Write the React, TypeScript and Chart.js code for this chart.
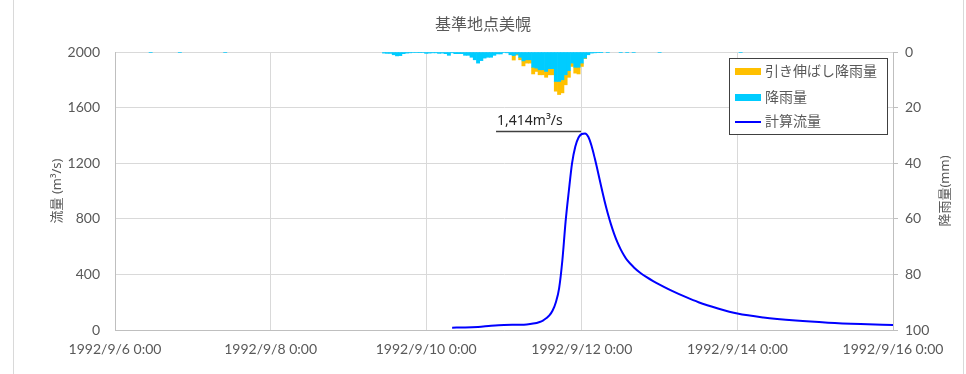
import React, { useEffect, useRef } from "react";
import { Chart, registerables } from "chart.js";

Chart.register(...registerables);

// ---------- data ----------
const TITLE = "基準地点美幌";
const LEFT_TITLE = "流量 (m³/s)";
const RIGHT_TITLE = "降雨量(mm)";
const LEGEND_LABELS = ["引き伸ばし降雨量", "降雨量", "計算流量"];
const PEAK_LABEL = "1,414m³/s";

const START_DAY = 6; // hour 0 = 1992/9/6 0:00
const HOURS_TOTAL = 240;
const X_TICK_STEP = 48;
const FLOW_MAX = 2000;
const FLOW_STEP = 400;
const RAIN_MAX = 100;
const RAIN_STEP = 20;

// hourly rainfall (mm) from RAIN_START_HOUR
const RAIN_START_HOUR = 83;
const rainfall = [
  0.4, 0.5, 0.5, 1.0, 1.4, 1.3, 0.6, 0.4, 0.3, 0.2, // 83-92
  0.2, 0.1, 0.2, 0.5, 0.4, 0.3, 0.3, 0.5, 0.4, 0.6, // 93-102
  1.2, 0.3, 0.6, 0.6, 0.6, 1.2, 1.2, 1.9, 2.8, 4.0, // 103-112
  3.1, 2.2, 1.9, 1.9, 1.2, 0.7, 0.7, 0.2, 0.3, 1.0, // 113-122
  1.3, 0.8, 1.9, 3.2, 2.8, 2.8, 5.5, 5.8, 6.4, 6.4, // 123-132
  7.0, 6.0, 6.0, 10.6, 10.6, 10.0, 8.2, 6.7, 4.0, 5.5, // 133-142
  5.5, 4.0, 2.2, 1.0, 0.4, 0.3, 0.1, 0.1, // 143-150
];
// additional rainfall of the stretched hyetograph (mm)
const stretchedExtra = [
  0, 0, 0, 0, 0, 0, 0, 0, 0, 0,
  0, 0, 0, 0, 0, 0, 0, 0, 0, 0,
  0, 0, 0, 0, 0, 0, 0, 0, 0, 0,
  0, 0, 0, 0, 0, 0, 0, 0, 0, 0,
  1.6, 0.3, 0.9, 1.8, 1.2, 1.2, 2.4, 1.2, 1.8, 1.8,
  2.1, 2.2, 2.2, 3.5, 4.7, 4.7, 3.6, 2.4, 1.2, 2.1,
  2.4, 1.2, 0.2, 0, 0, 0, 0, 0,
];
const minorRainHours = [11, 20, 34, 152, 156, 158, 160, 168, 193];
const minorRainValues = [0.2, 0.2, 0.2, 0.2, 0.2, 0.2, 0.2, 0.2, 0.2];

// computed discharge (m3/s)
const flowHours = [
  104, 108, 112, 116, 120, 124, 127, 129, 131, 132, 133, 134, 135, 136, 137, 138,
  139, 140, 141, 142, 143, 144, 145, 146, 147, 148, 149, 150, 151, 152, 153, 154,
  155, 156, 157, 158, 160, 162, 164, 166, 168, 172, 176, 180, 186, 192, 200, 210,
  220, 230, 240,
];
const flowValues = [
  17, 18, 22, 30, 36, 38, 40, 46, 58, 68, 84, 105, 140, 200, 300, 500,
  780, 1000, 1200, 1320, 1385, 1410, 1414, 1390, 1325, 1235, 1135, 1030, 930, 840, 760, 690,
  630, 580, 538, 502, 452, 412, 380, 352, 327, 280, 238, 200, 155, 118, 90, 68,
  53, 43, 36,
];

// ---------- styles ----------
const FONT = "Lato, 'Noto Sans CJK JP', sans-serif";
const SUP_FONT = "'Noto Sans', 'Noto Sans CJK JP', sans-serif";
const TEXT_COLOR = "#595959";
const GRID_COLOR = "#d9d9d9";
const AXIS_COLOR = "#bfbfbf";
const RAIN_COLOR = "#00CCFF";
const EXTRA_COLOR = "#FFC000";
const FLOW_COLOR = "#0000FF";

function hourLabel(h: number) {
  return `1992/9/${START_DAY + Math.round(h / 24)} 0:00`;
}

export default function App() {
  const canvasRef = useRef<HTMLCanvasElement | null>(null);

  useEffect(() => {
    const canvas = canvasRef.current;
    if (!canvas) return;

    const hours: number[] = [];
    for (let h = 0; h <= HOURS_TOTAL; h++) hours.push(h);
    const rainSeries: (number | null)[] = hours.map(() => null);
    const extraSeries: (number | null)[] = hours.map(() => null);
    rainfall.forEach((v, i) => {
      rainSeries[RAIN_START_HOUR + i] = v;
    });
    stretchedExtra.forEach((v, i) => {
      extraSeries[RAIN_START_HOUR + i] = v > 0 ? v : null;
    });
    minorRainHours.forEach((h, i) => {
      rainSeries[h] = minorRainValues[i];
    });
    const flowData = flowHours.map((h, i) => ({ x: h, y: flowValues[i] }));

    let peakIdx = 0;
    flowValues.forEach((v, i) => {
      if (v > flowValues[peakIdx]) peakIdx = i;
    });

    const framePlugin = {
      id: "frame",
      beforeDraw(chart: any) {
        const { ctx, width, height } = chart;
        ctx.save();
        ctx.fillStyle = "#ffffff";
        ctx.fillRect(0, 0, width, height);
        ctx.strokeStyle = GRID_COLOR;
        ctx.lineWidth = 1;
        ctx.beginPath();
        ctx.moveTo(13.5, 0);
        ctx.lineTo(13.5, height);
        ctx.moveTo(963.5, 0);
        ctx.lineTo(963.5, height);
        ctx.stroke();
        ctx.restore();
      },
    };

    const axisTitlePlugin = {
      id: "axisTitles",
      afterDraw(chart: any) {
        const { ctx, chartArea } = chart;
        const cy = (chartArea.top + chartArea.bottom) / 2;
        const draw = (text: string, x: number) => {
          ctx.save();
          ctx.fillStyle = TEXT_COLOR;
          ctx.font = `13px ${SUP_FONT}`;
          ctx.textAlign = "center";
          ctx.textBaseline = "middle";
          ctx.translate(x, cy);
          ctx.rotate(-Math.PI / 2);
          ctx.fillText(text, 0, 0);
          ctx.restore();
        };
        draw(LEFT_TITLE, 57);
        draw(RIGHT_TITLE, 945);
      },
    };

    const peakPlugin = {
      id: "peakLabel",
      afterDatasetsDraw(chart: any) {
        const { ctx, scales } = chart;
        const px = scales.x.getPixelForValue(flowHours[peakIdx]);
        const py = scales.y.getPixelForValue(flowValues[peakIdx]);
        ctx.save();
        ctx.strokeStyle = "#404040";
        ctx.lineWidth = 1.5;
        ctx.beginPath();
        ctx.moveTo(px - 89, py - 2);
        ctx.lineTo(px - 4, py - 2);
        ctx.stroke();
        ctx.fillStyle = "#262626";
        ctx.font = `14px ${SUP_FONT}`;
        ctx.textAlign = "left";
        ctx.textBaseline = "middle";
        ctx.fillText(PEAK_LABEL, px - 88, py - 12);
        ctx.restore();
      },
    };

    const legendPlugin = {
      id: "boxLegend",
      afterDraw(chart: any) {
        const { ctx, chartArea } = chart;
        const R = chartArea.right - 6;
        const T = chartArea.top + 6;
        const L = R - 158;
        const H = 76;
        ctx.save();
        ctx.fillStyle = "#ffffff";
        ctx.fillRect(L, T, R - L, H);
        ctx.strokeStyle = "#404040";
        ctx.lineWidth = 1;
        ctx.strokeRect(L + 0.5, T + 0.5, R - L, H);
        const sx = L + 6;
        const tx = L + 36;
        const rows = [T + 13, T + 39, T + 63];
        ctx.fillStyle = EXTRA_COLOR;
        ctx.fillRect(sx, rows[0] - 3, 26, 7);
        ctx.fillStyle = RAIN_COLOR;
        ctx.fillRect(sx, rows[1] - 3, 26, 7);
        ctx.strokeStyle = FLOW_COLOR;
        ctx.lineWidth = 2;
        ctx.beginPath();
        ctx.moveTo(sx, rows[2] + 1);
        ctx.lineTo(sx + 26, rows[2] + 1);
        ctx.stroke();
        ctx.fillStyle = TEXT_COLOR;
        ctx.font = `14px ${FONT}`;
        ctx.textAlign = "left";
        ctx.textBaseline = "middle";
        LEGEND_LABELS.forEach((t, i) => ctx.fillText(t, tx, rows[i]));
        ctx.restore();
      },
    };

    const chart = new Chart(canvas, {
      type: "bar",
      data: {
        labels: hours,
        datasets: [
          {
            type: "bar",
            label: LEGEND_LABELS[1],
            data: rainSeries,
            backgroundColor: RAIN_COLOR,
            borderWidth: 0,
            yAxisID: "y2",
            barPercentage: 1.0,
            categoryPercentage: 1.0,
            order: 1,
          },
          {
            type: "bar",
            label: LEGEND_LABELS[0],
            data: extraSeries,
            backgroundColor: EXTRA_COLOR,
            borderWidth: 0,
            yAxisID: "y2",
            barPercentage: 1.0,
            categoryPercentage: 1.0,
            order: 2,
          },
          {
            type: "line",
            label: LEGEND_LABELS[2],
            data: flowData as any,
            borderColor: FLOW_COLOR,
            borderWidth: 2,
            pointRadius: 0,
            fill: false,
            cubicInterpolationMode: "monotone",
            yAxisID: "y",
            order: 0,
          },
        ],
      },
      options: {
        responsive: false,
        animation: false,
        devicePixelRatio: 1,
        layout: { padding: 0 },
        plugins: {
          legend: { display: false },
          tooltip: { enabled: false },
          title: {
            display: true,
            text: TITLE,
            color: TEXT_COLOR,
            font: { family: FONT, size: 16, weight: "normal", lineHeight: "20px" },
            padding: { top: 15, bottom: 17 },
          },
        },
        scales: {
          x: {
            type: "linear",
            min: 0,
            max: HOURS_TOTAL,
            offset: false,
            stacked: true,
            grid: { color: GRID_COLOR, drawTicks: false, offset: false },
            border: { display: true, color: AXIS_COLOR },
            ticks: {
              stepSize: X_TICK_STEP,
              padding: 11,
              color: TEXT_COLOR,
              font: { family: FONT, size: 14 },
              maxRotation: 0,
              autoSkip: false,
              callback: (v: any) => hourLabel(Number(v)),
            },
            afterFit: (s: any) => {
              s.height = 44;
            },
          },
          y: {
            type: "linear",
            position: "left",
            min: 0,
            max: FLOW_MAX,
            grid: { color: GRID_COLOR, drawTicks: false },
            border: { display: true, color: AXIS_COLOR },
            ticks: {
              stepSize: FLOW_STEP,
              padding: 15,
              color: TEXT_COLOR,
              font: { family: FONT, size: 14 },
              callback: (v: any) => String(v),
            },
            afterFit: (s: any) => {
              s.width = 115;
            },
          },
          y2: {
            type: "linear",
            position: "right",
            min: 0,
            max: RAIN_MAX,
            reverse: true,
            stacked: true,
            grid: { drawOnChartArea: false, drawTicks: true, tickLength: 5, color: AXIS_COLOR },
            border: { display: true, color: AXIS_COLOR },
            ticks: {
              stepSize: RAIN_STEP,
              padding: 7,
              color: TEXT_COLOR,
              font: { family: FONT, size: 14 },
              callback: (v: any) => String(v),
            },
            afterFit: (s: any) => {
              s.width = 73;
            },
          },
        },
      },
      plugins: [framePlugin, axisTitlePlugin, peakPlugin, legendPlugin],
    });

    return () => chart.destroy();
  }, []);

  return (
    <div style={{ position: "fixed", left: 0, top: 0, width: 966, height: 374, background: "#fff" }}>
      <canvas ref={canvasRef} width={966} height={374} style={{ display: "block" }} />
    </div>
  );
}
